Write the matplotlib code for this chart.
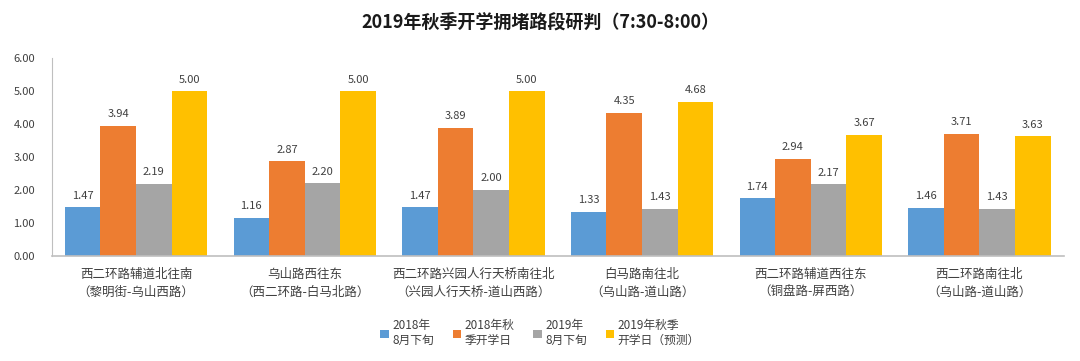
import matplotlib
matplotlib.use("Agg")
import matplotlib.pyplot as plt
import numpy as np

plt.rcParams['font.family'] = ['Noto Sans CJK SC', 'DejaVu Sans']

categories = ["西二环路辅道北往南\n（黎明街-乌山西路）",
              "乌山路西往东\n（西二环路-白马北路）",
              "西二环路兴园人行天桥南往北\n（兴园人行天桥-道山西路）",
              "白马路南往北\n（乌山路-道山路）",
              "西二环路辅道西往东\n（铜盘路-屏西路）",
              "西二环路南往北\n（乌山路-道山路）"]
series_names = ["2018年\n8月下旬", "2018年秋\n季开学日", "2019年\n8月下旬", "2019年秋季\n开学日（预测）"]
s2018_aug = [1.47, 1.16, 1.47, 1.33, 1.74, 1.46]
s2018_autumn = [3.94, 2.87, 3.89, 4.35, 2.94, 3.71]
s2019_aug = [2.19, 2.20, 2.00, 1.43, 2.17, 1.43]
s2019_autumn = [5.00, 5.00, 5.00, 4.68, 3.67, 3.63]
colors = ["#5B9BD5", "#ED7D31", "#A5A5A5", "#FFC000"]

fig = plt.figure(figsize=(10.8, 3.61), dpi=100)
ax = fig.add_axes([51.7/1080, 1-255.7/361, 1012/1080, 197.5/361])

x = np.arange(len(categories))
w = 0.211
data = [s2018_aug, s2018_autumn, s2019_aug, s2019_autumn]
for i, (vals, c, name) in enumerate(zip(data, colors, series_names)):
    pos = x + (i - 1.5) * w
    ax.bar(pos, vals, width=w, color=c, label=name)
    for p, v in zip(pos, vals):
        ax.text(p, v + 0.2, f"{v:.2f}", ha='center', va='bottom', fontsize=8, color='#404040')

ax.set_xlim(-0.5, len(categories) - 0.5)
ax.set_ylim(0, 6)
ax.set_yticks(np.arange(0, 6.01, 1))
ax.set_yticklabels([f"{v:.2f}" for v in np.arange(0, 6.01, 1)], fontsize=8, color='#404040')
ax.set_xticks(x)
ax.set_xticklabels(categories, fontsize=9, color='#404040', linespacing=1.45)
ax.tick_params(axis='both', length=0)
ax.tick_params(axis='x', pad=9)
ax.tick_params(axis='y', pad=12)
for s in ['top', 'right']:
    ax.spines[s].set_visible(False)
ax.spines['left'].set_color('#BFBFBF')
ax.spines['bottom'].set_color('#BFBFBF')
ax.spines['bottom'].set_linewidth(1.2)

fig.text(0.5, 1-22/361, "2019年秋季开学拥堵路段研判（7:30-8:00）", ha='center', va='center',
         fontsize=13, fontweight='bold', color='#1a1a1a')

leg = fig.legend(loc='center', bbox_to_anchor=(0.5, 1-333/361), ncol=4, frameon=False,
                 fontsize=8.5, handlelength=0.7, handleheight=0.7, handletextpad=0.3,
                 columnspacing=1.6, labelcolor='#404040')
for t in leg.get_texts():
    t.set_multialignment('left')

fig.savefig("out.png", dpi=100)
